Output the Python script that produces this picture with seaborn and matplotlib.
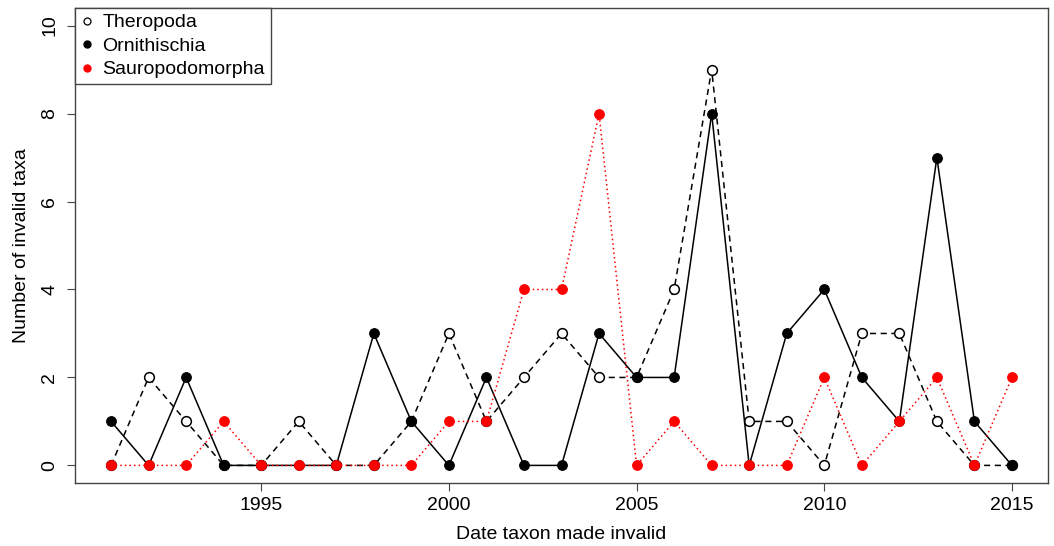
import matplotlib
matplotlib.use("Agg")
import matplotlib.pyplot as plt
from matplotlib.lines import Line2D
import seaborn as sns
import pandas as pd

years = list(range(1991, 2016))
theropoda = [0, 2, 1, 0, 0, 1, 0, 0, 1, 3, 1, 2, 3, 2, 2, 4, 9, 1, 1, 0, 3, 3, 1, 0, 0]
ornithischia = [1, 0, 2, 0, 0, 0, 0, 3, 1, 0, 2, 0, 0, 3, 2, 2, 8, 0, 3, 4, 2, 1, 7, 1, 0]
sauropodomorpha = [0, 0, 0, 1, 0, 0, 0, 0, 0, 1, 1, 4, 4, 8, 0, 1, 0, 0, 0, 2, 0, 1, 2, 0, 2]
x_ticks = [1995, 2000, 2005, 2010, 2015]
y_ticks = [0, 2, 4, 6, 8, 10]

sns.set_style("ticks")
plt.rcParams['font.family'] = ['Liberation Sans', 'DejaVu Sans']
plt.rcParams['text.color'] = 'black'
plt.rcParams['axes.labelcolor'] = 'black'
plt.rcParams['xtick.color'] = 'black'
plt.rcParams['ytick.color'] = 'black'

df = pd.DataFrame({'year': years, 'Theropoda': theropoda,
                   'Ornithischia': ornithischia, 'Sauropodomorpha': sauropodomorpha})

fig = plt.figure(figsize=(10.54, 5.46), dpi=100)
ax = fig.add_axes([0.0712, 0.1154, 0.9231, 0.8699])

# draw order: theropoda, ornithischia, sauropodomorpha (red on top)
sns.lineplot(data=df, x='year', y='Theropoda', ax=ax, color='black', linestyle=(0, (4, 3)),
             linewidth=1.1, marker='o', markersize=7, markerfacecolor='white',
             markeredgecolor='black', markeredgewidth=1.1)
sns.lineplot(data=df, x='year', y='Ornithischia', ax=ax, color='black', linestyle='-',
             linewidth=1.1, marker='o', markersize=7, markerfacecolor='black',
             markeredgecolor='black')
sns.lineplot(data=df, x='year', y='Sauropodomorpha', ax=ax, color='red', linestyle=(0, (1, 2)),
             linewidth=1.1, marker='o', markersize=7, markerfacecolor='red',
             markeredgecolor='red')

ax.set_xlim(1990.04, 2015.96)
ax.set_ylim(-0.4, 10.4)
ax.set_xticks(x_ticks)
ax.set_yticks(y_ticks)
ax.tick_params(axis='both', direction='out', length=6, width=0.8, color='#444444',
               labelsize=14)
ax.tick_params(axis='x', pad=4)
ax.tick_params(axis='y', pad=6)
for lbl in ax.get_yticklabels():
    lbl.set_rotation(90)
    lbl.set_va('center')
for sp in ax.spines.values():
    sp.set_visible(True)
    sp.set_color('#444444')
    sp.set_linewidth(1.0)

ax.set_xlabel('Date taxon made invalid', fontsize=14, labelpad=9)
ax.set_ylabel('Number of invalid taxa', fontsize=14, labelpad=8)

handles = [
    Line2D([], [], linestyle='none', marker='o', markersize=5, markerfacecolor='white',
           markeredgecolor='black', markeredgewidth=0.9),
    Line2D([], [], linestyle='none', marker='o', markersize=5, markerfacecolor='black',
           markeredgecolor='black'),
    Line2D([], [], linestyle='none', marker='o', markersize=5, markerfacecolor='red',
           markeredgecolor='red'),
]
leg = ax.legend(handles, ['Theropoda', 'Ornithischia', 'Sauropodomorpha'], loc='upper left',
                borderaxespad=0, fancybox=False, framealpha=1, edgecolor='#444444',
                fontsize=14, handlelength=0.6, handletextpad=0.5, labelspacing=0.3,
                borderpad=0.3)
leg.get_frame().set_linewidth(1.0)

fig.savefig('out.png', dpi=100)
